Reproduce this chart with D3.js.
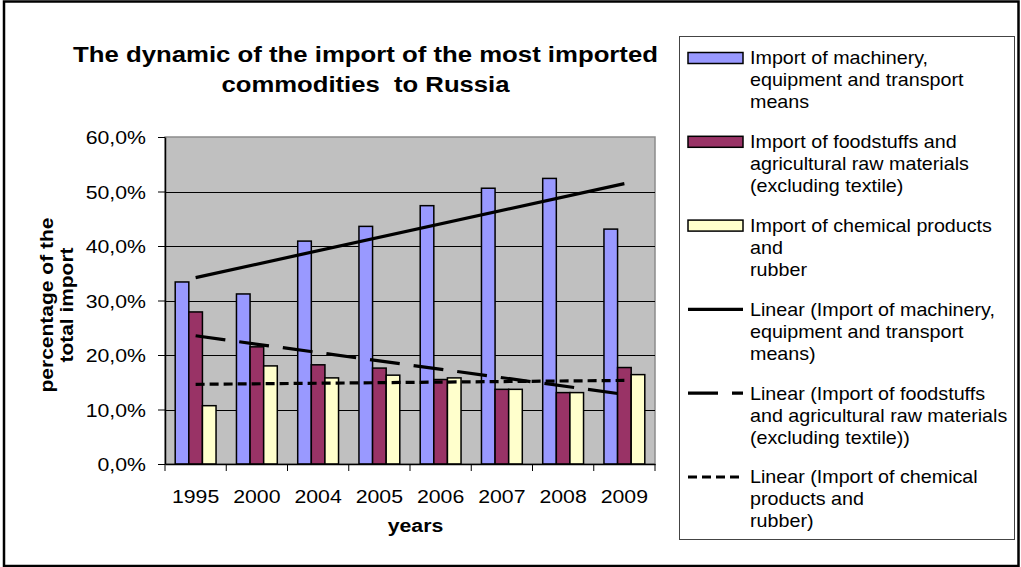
<!DOCTYPE html>
<html><head><meta charset="utf-8">
<script src="https://cdn.jsdelivr.net/npm/d3@7/dist/d3.min.js"></script>
<style>
body{margin:0;background:#fff}
text{font-family:Arial,"Liberation Sans",sans-serif;fill:#000}
</style>
</head><body>
<svg id="c" width="1021" height="567"></svg>
<script>
// ---- data ----
const categories = ["1995","2000","2004","2005","2006","2007","2008","2009"];
const machinery  = [33.4,31.2,40.9,43.6,47.4,50.6,52.4,43.1];
const foodstuffs = [27.9,21.5,18.2,17.6,15.5,13.7,13.1,17.7];
const chemicals  = [10.7,18.0,15.8,16.3,15.8,13.7,13.1,16.4];
const yTicks = [0,10,20,30,40,50,60];
const titleLines = ["The dynamic of the import of the most imported","commodities  to Russia"];
const yTitleLines = ["percentage of the","total import"];
const xTitle = "years";
const legendLabels = [
  ["Import of machinery,","equipment and transport","means"],
  ["Import of foodstuffs and","agricultural raw materials","(excluding textile)"],
  ["Import of chemical products","and","rubber"],
  ["Linear (Import of machinery,","equipment and transport","means)"],
  ["Linear (Import of foodstuffs","and agricultural raw materials","(excluding textile))"],
  ["Linear (Import of chemical","products and","rubber)"]
];

// ---- styles ----
const colors = ["#9999FF","#993366","#FFFFCC"];
const dashes = [null,"30,14","9,5"];
const SX = 1.12; // horizontal stretch of text
const series = [machinery, foodstuffs, chemicals];

const svg = d3.select("#c");
svg.append("rect").attr("x",4).attr("y",1.5).attr("width",1014.5).attr("height",564.5)
  .attr("fill","#fff").attr("stroke","#000").attr("stroke-width",2.5);

const L=165, R=655, T=137, B=464;
const x = d3.scaleBand().domain(categories).range([L,R]);
const y = d3.scaleLinear().domain([0,60]).range([B,T]);
const bw = x.bandwidth()/4.5;

// plot background
svg.append("rect").attr("x",L).attr("y",T).attr("width",R-L).attr("height",B-T)
  .attr("fill","#C0C0C0").attr("stroke","#8c8c8c").attr("stroke-width",1.5);

// gridlines
svg.append("g").selectAll("line").data(yTicks.filter(d=>d>0 && d<60)).join("line")
  .attr("x1",L).attr("x2",R).attr("y1",d=>Math.round(y(d))+0.5).attr("y2",d=>Math.round(y(d))+0.5)
  .attr("stroke","#000").attr("stroke-width",1);

// bars
series.forEach((vals,si)=>{
  svg.append("g").selectAll("rect").data(vals).join("rect")
    .attr("x",(d,i)=>x(categories[i])+x.bandwidth()/2-1.5*bw+si*bw)
    .attr("y",d=>y(d)).attr("width",bw).attr("height",d=>B-y(d))
    .attr("fill",colors[si]).attr("stroke","#000").attr("stroke-width",1.5);
});

// trendlines (least squares over category index)
function fit(vals){
  const n=vals.length, xs=vals.map((_,i)=>i+1);
  const mx=d3.mean(xs), my=d3.mean(vals);
  const sxy=d3.sum(xs,(xi,i)=>(xi-mx)*(vals[i]-my)), sxx=d3.sum(xs,xi=>(xi-mx)*(xi-mx));
  const b=sxy/sxx, a=my-b*mx;
  return [[1,a+b],[n,a+b*n]];
}
const cx = i=>x(categories[i-1])+x.bandwidth()/2;
series.forEach((vals,si)=>{
  const pts=fit(vals);
  svg.append("line").attr("x1",cx(pts[0][0])).attr("y1",y(pts[0][1]))
    .attr("x2",cx(pts[1][0])).attr("y2",y(pts[1][1]))
    .attr("stroke","#000").attr("stroke-width",3.2)
    .attr("stroke-dasharray",dashes[si]);
});

// axes
const yAxis = svg.append("g").attr("transform",`translate(${L},0)`)
  .call(d3.axisLeft(y).tickValues(yTicks).tickSize(7).tickSizeOuter(0)
    .tickFormat(d=>d3.format(".1f")(d).replace(".",",")+"%"));
yAxis.select(".domain").attr("stroke","#000").attr("stroke-width",1.5);
yAxis.selectAll(".tick line").attr("stroke","#000");
yAxis.selectAll("text").attr("font-size",19).attr("x",-19/SX).attr("dy","0.35em")
  .attr("transform",`scale(${SX},1)`).attr("font-family","Arial,'Liberation Sans',sans-serif");

const xAxis = svg.append("g").attr("transform",`translate(0,${B})`)
  .call(d3.axisBottom(x).tickSize(0).tickSizeOuter(0));
xAxis.select(".domain").attr("stroke","#000").attr("stroke-width",1.5);
xAxis.selectAll("text").attr("font-size",19).attr("y",39).attr("dy",0)
  .attr("transform",`scale(${SX},1)`).attr("x",0)
  .attr("font-family","Arial,'Liberation Sans',sans-serif");
// boundary ticks
const bounds = categories.map(c=>x(c)).concat([R]);
svg.append("g").selectAll("line").data(bounds).join("line")
  .attr("x1",d=>d).attr("x2",d=>d).attr("y1",B).attr("y2",B+7)
  .attr("stroke","#000").attr("stroke-width",1);

// title
const tl=[585,288], ty=[62,92];
titleLines.forEach((t,i)=>{
  svg.append("text").attr("x",365.5).attr("y",ty[i]).attr("text-anchor","middle")
    .attr("font-size",22).attr("font-weight","bold").style("white-space","pre")
    .attr("textLength",tl[i]).attr("lengthAdjust","spacingAndGlyphs").text(t);
});

// y title
const yl=[175,115], yx=[53,73];
yTitleLines.forEach((t,i)=>{
  svg.append("text").attr("transform",`translate(${yx[i]},305) rotate(-90)`)
    .attr("text-anchor","middle").attr("font-size",18).attr("font-weight","bold")
    .attr("textLength",yl[i]).attr("lengthAdjust","spacingAndGlyphs").text(t);
});

// x title
svg.append("text").attr("transform",`translate(415.5,532) scale(${SX},1)`)
  .attr("text-anchor","middle").attr("font-size",19).attr("font-weight","bold").text(xTitle);

// legend
svg.append("rect").attr("x",679.5).attr("y",36.5).attr("width",335).attr("height",503)
  .attr("fill","#fff").attr("stroke","#444").attr("stroke-width",1);
legendLabels.forEach((lines,i)=>{
  const cy = 58 + i*83.8;
  if(i<3){
    svg.append("rect").attr("x",688).attr("y",cy-5.5).attr("width",55).attr("height",11)
      .attr("fill",colors[i]).attr("stroke","#000").attr("stroke-width",1.5);
  } else {
    svg.append("line").attr("x1",688).attr("x2",743).attr("y1",cy).attr("y2",cy)
      .attr("stroke","#000").attr("stroke-width",3.2).attr("stroke-dasharray",dashes[i-3]);
  }
  lines.forEach((t,j)=>{
    svg.append("text").attr("transform",`translate(750,${cy+j*22}) scale(${SX},1)`)
      .attr("dy","0.36em").attr("font-size",17.6).text(t);
  });
});
</script>
</body></html>
